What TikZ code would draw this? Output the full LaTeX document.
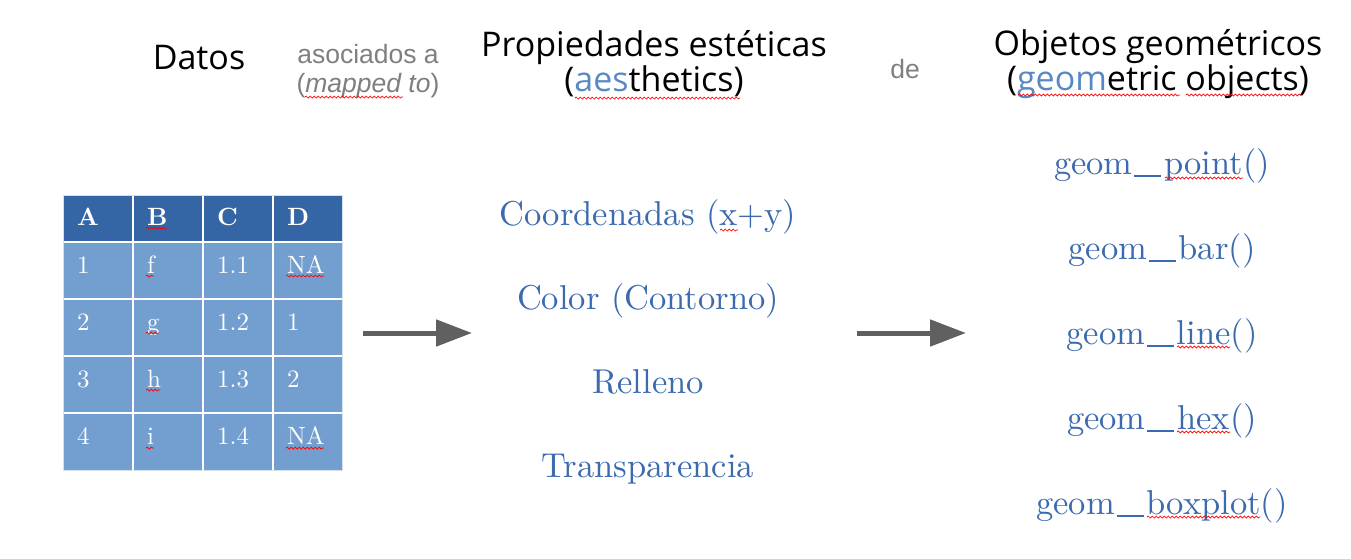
\documentclass[tikz,border=0pt]{standalone}
\usepackage{fontspec}
\newfontfamily\headfont{Open Sans}
\newfontfamily\grayfont{Liberation Sans}
\newfontfamily\cmfont{lmroman10}[Extension=.otf, UprightFont=*-regular, BoldFont=*-bold]
\usetikzlibrary{arrows.meta,decorations.pathmorphing}
\definecolor{tabdark}{HTML}{3465A4}
\definecolor{tablight}{HTML}{729FCF}
\definecolor{serifblue}{HTML}{3B6AAE}
\definecolor{aesblue}{HTML}{5A88C2}
\definecolor{mapgray}{HTML}{7F7F7F}
\definecolor{arrowgray}{HTML}{606060}
\newcommand{\guion}{\kern0.05em\rule[-0.08em]{0.78em}{0.05em}\kern0.09em}
\begin{document}
\begin{tikzpicture}[x=1pt,y=-1pt,
    titulo/.style={font=\headfont\fontsize{34}{38}\selectfont, anchor=base, inner sep=0},
    enlace/.style={font=\grayfont\fontsize{26.5}{30}\selectfont, text=mapgray, anchor=base, inner sep=0},
    estetica/.style={font=\cmfont\fontsize{34.5}{40}\selectfont, text=serifblue, anchor=base, inner sep=0},
    celda/.style={font=\cmfont\fontsize{25}{30}\selectfont, text=white, anchor=base west, inner sep=0},
    celdahead/.style={celda, font=\cmfont\bfseries\fontsize{25}{30}\selectfont},
    flecha/.style={line width=5pt, draw=arrowgray, -{Triangle[length=36pt,width=26pt]}},
    squig/.style={red, line width=0.7pt, decorate, decoration={snake, segment length=4pt, amplitude=1pt}}]
    \useasboundingbox (0,0) rectangle (1351,558);
    % titulos
    \node[titulo] (datos) at (199,69) {Datos};
    \node[enlace] (asoc) at (368,63) {asociados a};
    \node[enlace] (mapped) at (368,92) {(\textit{mapped to})};
    \node[titulo] (prop) at (654,56) {Propiedades estéticas};
    \node[titulo] (aes) at (654,91) {(\textcolor{aesblue}{aes}thetics)};
    \node[enlace] (de) at (905,78) {de};
    \node[titulo] (obj) at (1158,55) {Objetos geométricos};
    \node[titulo] (geomobj) at (1158,90) {(\textcolor{aesblue}{geom}etric objects)};
    % tabla
    \fill[tablight] (63,195) rectangle (342,470);
    \fill[tabdark] (63,195) rectangle (342,242);
    \foreach \x in {133,203,273}
        \draw[white, line width=2pt] (\x,195) -- (\x,470);
    \foreach \y in {242,299,356,413}
        \draw[white, line width=2pt] (63,\y) -- (342,\y);
    \draw[white!80!tabdark, line width=1pt] (63,195) rectangle (342,470);
    \foreach \t [count=\i] in {A,B,C,D}
        \node[celdahead] (h\i) at ({77+70*(\i-1)},225) {\t};
    \foreach \a/\b/\c/\d [count=\r] in {1/f/1.1/NA, 2/g/1.2/1, 3/h/1.3/2, 4/i/1.4/NA} {
        \node[celda] (a\r) at (77,216+57*\r) {\a};
        \node[celda] (b\r) at (147,216+57*\r) {\b};
        \node[celda] (c\r) at (217,216+57*\r) {\c};
        \node[celda] (d\r) at (287,216+57*\r) {\d};
    }
    % esteticas
    \node[estetica] (coord) at (648,225) {Coordenadas (x+y)};
    \node[estetica] (color) at (648,309) {Color (Contorno)};
    \node[estetica] (relleno) at (648,393) {Relleno};
    \node[estetica] (transp) at (648,477) {Transparencia};
    % geoms
    \node[estetica] (gpoint) at (1162,174) {geom\guion point()};
    \node[estetica] (gbar) at (1162,259) {geom\guion bar()};
    \node[estetica] (gline) at (1162,344) {geom\guion line()};
    \node[estetica] (ghex) at (1162,429) {geom\guion hex()};
    \node[estetica] (gbox) at (1162,514) {geom\guion boxplot()};
    % flechas
    \coordinate (f1a) at (363,333);
    \coordinate (f1b) at (472,333);
    \coordinate (f2a) at (857,333);
    \coordinate (f2b) at (966,333);
    \draw[flecha] (f1a) -- (f1b);
    \draw[flecha] (f2a) -- (f2b);
    % subrayados
    \foreach \xa/\xb/\y in {305/403/97, 575/740/98, 1018/1180/95, 1186/1302/95,
        146/167/228, 146/154/276, 146/159/333, 146/160/390, 146/154/448,
        286/324/276, 286/324/448, 720/738/230,
        1165/1243/178, 1177/1230/347, 1177/1230/432, 1147/1260/517}
        \draw[squig] (\xa,\y) -- (\xb,\y);
\end{tikzpicture}
\end{document}
